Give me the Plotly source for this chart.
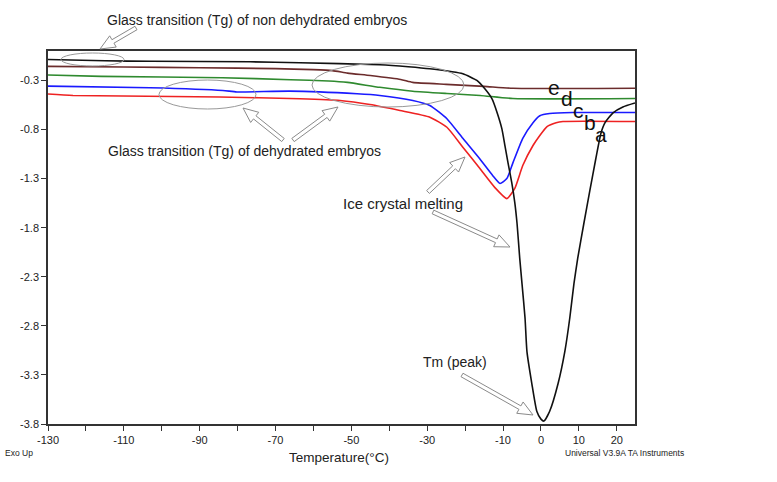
import plotly.graph_objects as go

# ---------------- data ----------------
temp_a = [-130, -115, -103, -76.7, -63.6, -42.5, -35, -29.3, -20.6, -16.9, -14.8, -12.9, -11.6, -10.3,
          -9.5, -8.7, -7.7, -6.9, -6.3, -5.6, -5.0, -4.2, -3.7, -2.4, -1.1, 0.0, 0.8, 2.3, 4.5, 6.3, 7.6,
          8.7, 9.7, 11.3, 12.9, 14.5, 15.8, 16.9, 19.0, 21.6, 24.8]
hf_a = [-0.086, -0.10, -0.105, -0.11, -0.12, -0.14, -0.16, -0.181, -0.232, -0.30, -0.385, -0.487, -0.623, -0.793,
        -0.963, -1.137, -1.34, -1.545, -1.76, -2.11, -2.37, -2.72, -3.06, -3.39, -3.67, -3.75, -3.77, -3.67, -3.39,
        -3.06, -2.72, -2.37, -2.11, -1.76, -1.42, -1.09, -0.84, -0.73, -0.63, -0.57, -0.53]

temp_b = [-130, -123.4, -84.7, -63.6, -53.0, -45.1, -37.2, -29.3, -24.8, -20.6, -16.1, -12.2, -9.0,
          -6.9, -4.8, -2.1, -0.3, 1.6, 4.0, 5.8, 24.8]
hf_b = [-0.438, -0.453, -0.468, -0.487, -0.504, -0.545, -0.606, -0.674, -0.777, -0.98, -1.198, -1.389, -1.504,
        -1.40, -1.167, -0.963, -0.861, -0.77, -0.73, -0.718, -0.718]

temp_c = [-130, -103.1, -83.9, -80.2, -66.2, -48.5, -42.5, -33.8, -29.3, -24.8, -20.6, -16.1, -12.7, -10.8,
          -9.0, -7.4, -4.8, -2.1, -0.3, 2.3, 8.4, 24.8]
hf_c = [-0.358, -0.374, -0.402, -0.417, -0.409, -0.436, -0.453, -0.504, -0.555, -0.69, -0.89, -1.10, -1.27, -1.35,
        -1.30, -1.14, -0.89, -0.73, -0.66, -0.637, -0.627, -0.627]

temp_d = [-130, -116, -84, -66, -56, -51, -42.5, -33.8, -24.8, -16, -7.4, 24.8]
hf_d = [-0.244, -0.259, -0.272, -0.293, -0.305, -0.32, -0.37, -0.41, -0.433, -0.453, -0.484, -0.484]

temp_e = [-130, -110, -90, -70, -60, -55, -51, -45, -37, -33.8, -25, -15, -7.4, 24.8]
hf_e = [-0.157, -0.163, -0.17, -0.18, -0.19, -0.20, -0.225, -0.25, -0.29, -0.32, -0.34, -0.36, -0.38, -0.38]

x_tick_vals = [-130, -120, -110, -100, -90, -80, -70, -60, -50, -40, -30, -20, -10, 0, 10, 20]
x_tick_text = ["-130", "", "-110", "", "-90", "", "-70", "", "-50", "", "-30", "", "-10", "0", "10", "20"]
y_tick_vals = [-0.3, -0.8, -1.3, -1.8, -2.3, -2.8, -3.3, -3.8]
y_tick_text = ["-0.3", "-0.8", "-1.3", "-1.8", "-2.3", "-2.8", "-3.3", "-3.8"]

curve_labels = ["a", "b", "c", "d", "e"]

# ---------------- layout geometry ----------------
W, H = 777, 482
L, R, T, B = 48, 142, 51, 58
PX0, PX1 = L, W - R
PY0, PY1 = T, H - B
FONT = "Arial, Liberation Sans, sans-serif"


def pxx(px):
    return (px - PX0) / (PX1 - PX0)


def pxy(py):
    return (PY1 - py) / (PY1 - PY0)


fig = go.Figure()
series = [
    (temp_e, hf_e, "#6b2c2c"),
    (temp_d, hf_d, "#2f8a2f"),
    (temp_c, hf_c, "#1a1aff"),
    (temp_b, hf_b, "#ee2222"),
    (temp_a, hf_a, "#111111"),
]
for xs, ys, col in series:
    fig.add_trace(go.Scatter(x=xs, y=ys, mode="lines",
                             line=dict(color=col, width=1.6, shape="spline", smoothing=0.5),
                             showlegend=False, hoverinfo="skip"))

shapes = []
# ellipses
for (cx, cy, rx, ry) in [(92.5, 59.5, 31.5, 6.5), (207.5, 94.5, 48.5, 14.5), (388, 85, 76, 22)]:
    shapes.append(dict(type="circle", xref="paper", yref="paper",
                       x0=pxx(cx - rx), x1=pxx(cx + rx), y0=pxy(cy + ry), y1=pxy(cy - ry),
                       line=dict(color="#999999", width=1)))


def hollow_arrow(x0, y0, x1, y1, hw=2.0, hl=15.0, hh=6.5):
    dx, dy = x1 - x0, y1 - y0
    ln = (dx * dx + dy * dy) ** 0.5
    ux, uy = dx / ln, dy / ln
    nx, ny = -uy, ux
    bx, by = x1 - ux * hl, y1 - uy * hl
    pts = [(x0 + nx * hw, y0 + ny * hw), (bx + nx * hw, by + ny * hw), (bx + nx * hh, by + ny * hh),
           (x1, y1), (bx - nx * hh, by - ny * hh), (bx - nx * hw, by - ny * hw), (x0 - nx * hw, y0 - ny * hw)]
    path = "M " + " L ".join(f"{pxx(p[0]):.5f},{pxy(p[1]):.5f}" for p in pts) + " Z"
    return dict(type="path", xref="paper", yref="paper", path=path,
                line=dict(color="#8a8a8a", width=1), fillcolor="white")


for a in [(136, 28, 100, 49), (283, 140, 243, 108), (293, 140, 338, 107),
          (428, 192, 465, 157), (433, 212, 510, 247), (462, 375, 533, 415)]:
    shapes.append(hollow_arrow(*a))

annotations = []


def txt(text, x, y, size, anchor="left", color="#222222"):
    annotations.append(dict(text=text, x=pxx(x), y=pxy(y), xref="paper", yref="paper",
                            xanchor=anchor, yanchor="middle", showarrow=False,
                            font=dict(family=FONT, size=size, color=color)))


txt("Glass transition (Tg) of non dehydrated embryos", 105, 20, 14)
txt("Glass transition (Tg) of dehydrated embryos", 106, 151, 14)
txt("Ice crystal melting", 341, 203, 15)
txt("Tm (peak)", 421, 362, 14)
txt("Exo Up", 3, 453, 8.5)
txt("Temperature(°C)", 339, 457, 13.5, anchor="center")
txt("Universal V3.9A TA Instruments", 563, 453, 8.5)

label_pos = {"e": (554, 88), "d": (567, 98), "c": (578, 110), "b": (590, 122), "a": (601, 134)}
for lab in curve_labels:
    lx, ly = label_pos[lab]
    txt(lab, lx, ly, 21, anchor="center", color="#111111")

fig.update_layout(
    width=W, height=H,
    margin=dict(l=L, r=R, t=T, b=B),
    paper_bgcolor="white", plot_bgcolor="white",
    shapes=shapes, annotations=annotations,
    font=dict(family=FONT, size=11, color="#222222"),
    showlegend=False,
)
fig.update_xaxes(range=[-130, 24.8], tickmode="array", tickvals=x_tick_vals, ticktext=x_tick_text,
                 ticks="outside", ticklen=5, tickwidth=1.3, tickcolor="#333333",
                 showline=True, linecolor="#333333", linewidth=1.5, mirror=True,
                 showgrid=False, zeroline=False, tickfont=dict(size=11))
fig.update_yaxes(range=[-3.8, 0.0], tickmode="array", tickvals=y_tick_vals, ticktext=y_tick_text,
                 ticks="outside", ticklen=5, tickwidth=1.3, tickcolor="#333333",
                 showline=True, linecolor="#333333", linewidth=1.5, mirror=True,
                 showgrid=False, zeroline=False, tickfont=dict(size=11))

fig.write_html("out.html")
